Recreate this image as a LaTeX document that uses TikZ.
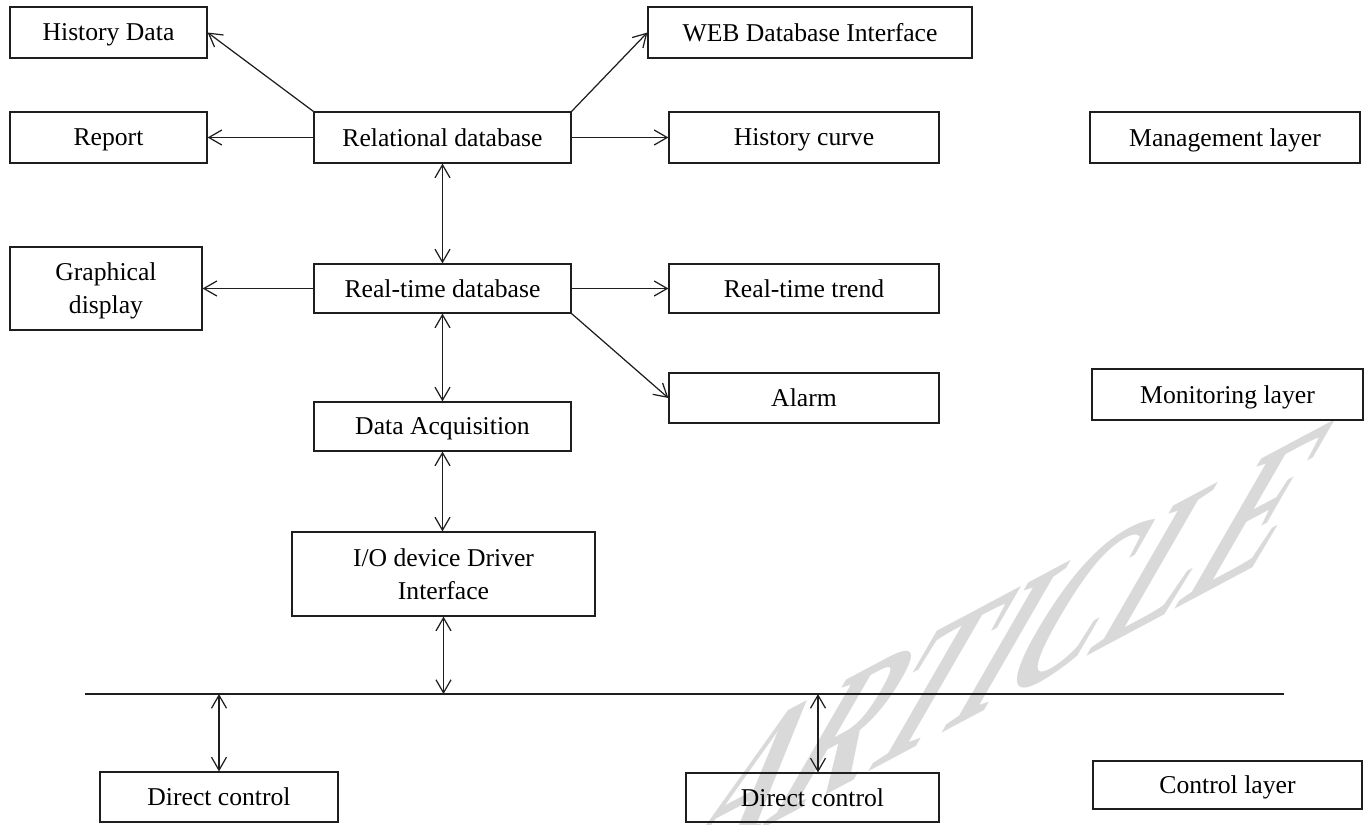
\documentclass[tikz,border=0pt]{standalone}
\usepackage{fontspec}
\setmainfont{Liberation Serif}
\usetikzlibrary{arrows.meta}
\newdimen\pxu \pxu=0.02cm
\definecolor{linec}{HTML}{1E1E1E}
\definecolor{wm}{HTML}{D9D9D9}
\begin{document}
\begin{tikzpicture}[x=0.02cm,y=-0.02cm,
  box/.style={draw=linec, line width=0.7pt, inner sep=0pt, align=center, text depth=0pt,
              font=\fontsize{14.6}{18.8}\selectfont},
  tip/.tip={Straight Barb[length=0.26cm,width=0.3cm]},
  arr/.style={draw=linec, line width=0.7pt, -tip},
  darr/.style={draw=linec, line width=0.7pt, tip-tip},
  busline/.style={draw=linec, line width=0.7pt}]
\useasboundingbox (0,0) rectangle (1367,825);
\clip (0,0) rectangle (1367,825);
\fill[white] (0,0) rectangle (1367,825);

% watermark
\begin{scope}[shift={(1005,648)}, cm={0.754,0.401,0.754,1.306,(0,0)}]
  \node[transform shape, inner sep=0pt, text=wm, font=\bfseries\fontsize{100}{100}\selectfont] (wmark) at (0,0) {ARTICLE};
\end{scope}

% boxes
\node[box, minimum width=197\pxu, minimum height=51\pxu] (hist) at (108.5,32.5) {History Data};
\node[box, minimum width=197\pxu, minimum height=51\pxu] (rep) at (108.5,137.5) {Report};
\node[box, minimum width=257\pxu, minimum height=51\pxu] (rel) at (442.5,137.5) {Relational database};
\node[box, minimum width=324\pxu, minimum height=51\pxu] (web) at (810,32.5) {WEB Database Interface};
\node[box, minimum width=270\pxu, minimum height=51\pxu] (hc) at (804,137.5) {History curve};
\node[box, minimum width=270\pxu, minimum height=51\pxu] (mgmt) at (1225,137.5) {Management layer};
\node[box, minimum width=192\pxu, minimum height=83\pxu] (gd) at (106,288.5) {Graphical\\display};
\node[box, minimum width=257\pxu, minimum height=49\pxu] (rt) at (442.5,288.5) {Real-time database};
\node[box, minimum width=270\pxu, minimum height=49\pxu] (rtt) at (804,288.5) {Real-time trend};
\node[box, minimum width=270\pxu, minimum height=50\pxu] (alarm) at (804,398) {Alarm};
\node[box, minimum width=271\pxu, minimum height=51\pxu] (mon) at (1227.5,394.5) {Monitoring layer};
\node[box, minimum width=257\pxu, minimum height=49\pxu] (da) at (442.5,426.5) {Data Acquisition};
\node[box, minimum width=303\pxu, minimum height=84\pxu] (io) at (443.5,574) {I/O device Driver\\Interface};
\node[box, minimum width=238\pxu, minimum height=50\pxu] (dc1) at (219,797) {Direct control};
\node[box, minimum width=253\pxu, minimum height=49\pxu] (dc2) at (812.5,797.5) {Direct control};
\node[box, minimum width=269\pxu, minimum height=48\pxu] (ctrl) at (1227.5,785) {Control layer};

% bus
\coordinate (busL) at (85,694);
\coordinate (busR) at (1284,694);
\draw[busline] (busL) -- (busR);

% connectors
\draw[arr] (rel.north west) -- (hist.east);
\draw[arr] (rel.north east) -- (web.west);
\draw[arr] (rel.west) -- (rep.east);
\draw[arr] (rel.east) -- (hc.west);
\draw[darr] (rel.south) -- (rt.north);
\draw[arr] (rt.west) -- (rt.west -| gd.east);
\draw[arr] (rt.east) -- (rtt.west);
\draw[arr] (rt.south east) -- (alarm.west);
\draw[darr] (rt.south) -- (da.north);
\draw[darr] (da.south) -- (da.south |- io.north);
\draw[darr] (io.south) -- (io.south |- busL);
\draw[darr] (dc1.north |- busL) -- (dc1.north);
\draw[darr] ([xshift=5.5\pxu]dc2.north |- busL) -- ([xshift=5.5\pxu]dc2.north);
\end{tikzpicture}
\end{document}
